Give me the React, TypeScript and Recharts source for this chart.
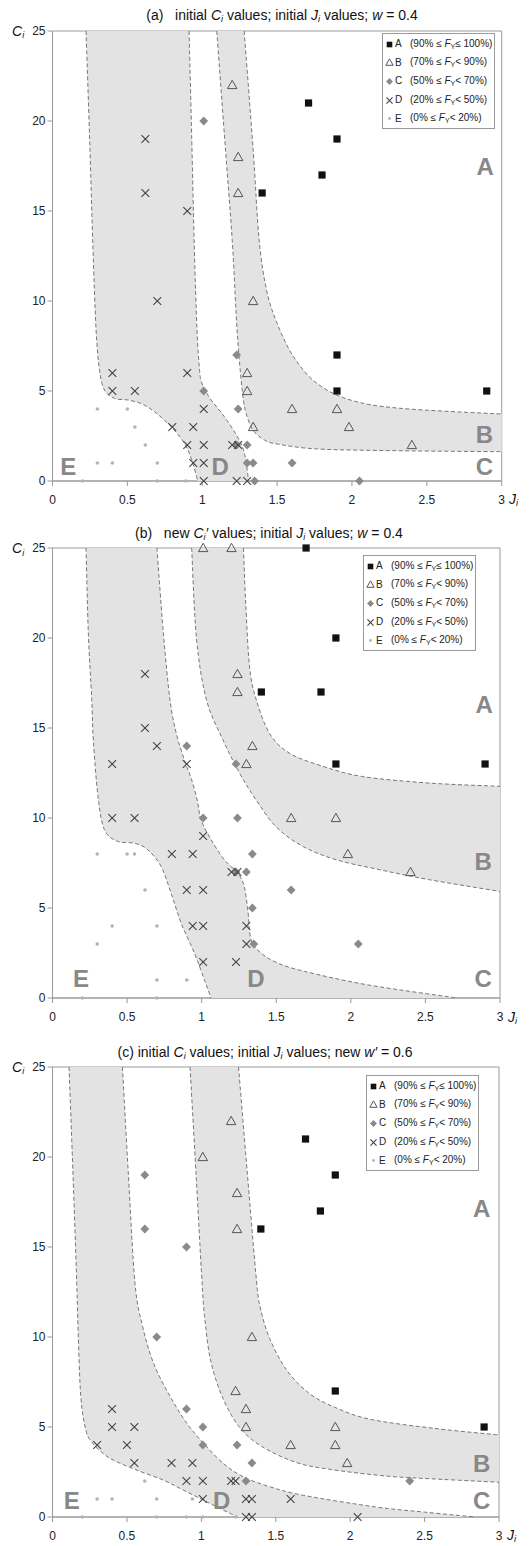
import React from 'react';
import { ScatterChart, Scatter, XAxis, YAxis, ReferenceArea, ReferenceDot, Legend } from 'recharts';

const FONT = '"Liberation Sans", Arial, Helvetica, sans-serif';

const X_TICKS = [0, 0.5, 1, 1.5, 2, 2.5, 3];
const Y_TICKS = [0, 5, 10, 15, 20, 25];

const SERIES_NAMES = ['A', 'B', 'C', 'D', 'E'];
const LEGEND_LOW = ['90%', '70%', '50%', '20%', '0%'];
const LEGEND_OP = ['≤', '<', '<', '<', '<'];
const LEGEND_HIGH = ['100%', '90%', '70%', '50%', '20%'];

// ---------- panel (a) ----------
const aA = [[1.71, 21], [1.9, 19], [1.8, 17], [1.4, 16], [1.9, 7], [1.9, 5], [2.9, 5]];
const aB = [[1.2, 22], [1.24, 18], [1.24, 16], [1.34, 10], [1.3, 6], [1.3, 5], [1.34, 3], [1.6, 4], [1.9, 4], [1.98, 3], [2.4, 2]];
const aC = [[1.01, 20], [1.23, 7], [1.01, 5], [1.24, 4], [1.3, 2], [1.23, 2], [1.3, 1], [1.34, 1], [1.6, 1], [1.35, 0], [2.05, 0]];
const aD = [[0.62, 19], [0.62, 16], [0.9, 15], [0.7, 10], [0.4, 6], [0.9, 6], [0.4, 5], [0.55, 5], [1.01, 4], [0.8, 3], [0.94, 3], [0.9, 2], [1.01, 2], [1.2, 2], [1.24, 2], [0.94, 1], [1.01, 1], [1.01, 0], [1.23, 0], [1.3, 0]];
const aE = [[0.3, 4], [0.5, 4], [0.55, 3], [0.62, 2], [0.3, 1], [0.4, 1], [0.7, 1], [0.2, 0], [0.7, 0], [0.89, 0]];

const aBand1L = [[0.224, 25], [0.248, 19], [0.27, 13], [0.291, 8.4], [0.314, 6.17], [0.347, 5.06], [0.414, 4.59], [0.503, 4.5], [0.592, 4.3], [0.681, 3.85], [0.792, 3.02], [0.881, 2.09], [0.93, 1.17], [0.97, 0]];
const aBand1R = [[0.912, 25], [0.93, 19], [0.947, 13], [0.965, 8.4], [0.982, 6.17], [0.995, 5.5], [1.03, 4.9], [1.059, 4.5], [1.148, 3.57], [1.235, 2.46], [1.282, 1.54], [1.31, 0]];
const aBand2L = [[1.097, 25], [1.15, 19], [1.2, 13.4], [1.225, 9.5], [1.24, 7.5], [1.26, 5.6], [1.275, 4.5], [1.293, 3.76], [1.338, 2.83], [1.415, 2.28], [1.505, 2.05], [1.77, 1.78], [2.32, 1.68], [3, 1.63]];
const aBand2R = [[1.28, 25], [1.34, 18.4], [1.38, 13.4], [1.43, 10.6], [1.5, 8.76], [1.61, 6.9], [1.765, 5.43], [1.99, 4.5], [2.32, 4.04], [3, 3.72]];
const aLetters = [['A', 2.889, 17.46], ['B', 2.885, 2.61], ['C', 2.885, 0.79], ['D', 1.119, 0.79], ['E', 0.106, 0.79]];

// ---------- panel (b) ----------
const bA = [[1.7, 25], [1.9, 20], [1.4, 17], [1.8, 17], [1.9, 13], [2.9, 13]];
const bB = [[1.01, 25], [1.2, 25], [1.24, 18], [1.24, 17], [1.34, 14], [1.3, 13], [1.6, 10], [1.9, 10], [1.98, 8], [2.4, 7]];
const bC = [[0.9, 14], [1.23, 13], [1.01, 10], [1.24, 10], [1.34, 8], [1.23, 7], [1.3, 7], [1.6, 6], [1.34, 5], [1.35, 3], [2.05, 3]];
const bD = [[0.62, 18], [0.62, 15], [0.7, 14], [0.4, 13], [0.9, 13], [0.4, 10], [0.55, 10], [1.01, 9], [0.8, 8], [0.94, 8], [1.2, 7], [1.24, 7], [0.9, 6], [1.01, 6], [0.94, 4], [1.01, 4], [1.3, 4], [1.3, 3], [1.01, 2], [1.23, 2]];
const bE = [[0.3, 8], [0.5, 8], [0.55, 8], [0.62, 6], [0.4, 4], [0.7, 4], [0.3, 3], [0.7, 1], [0.9, 1], [0.2, 0], [0.7, 0]];

const bBand1L = [[0.225, 25], [0.24, 20.3], [0.263, 16.6], [0.274, 14.3], [0.305, 11.2], [0.348, 9.35], [0.437, 8.7], [0.55, 8.6], [0.638, 8.24], [0.728, 7.31], [0.795, 5.83], [0.862, 4.17], [0.951, 2.5], [1.018, 1.02], [1.063, 0]];
const bBand1R = [[0.7, 25], [0.743, 20.3], [0.787, 16.6], [0.83, 14.7], [0.885, 13.2], [0.93, 12.2], [0.97, 11.0], [0.996, 9.9], [1.063, 8.8], [1.152, 7.68], [1.242, 6.94], [1.285, 6.2], [1.309, 4.9], [1.331, 3.24], [1.398, 2.5], [1.51, 1.94], [1.689, 1.48], [2.106, 0.74], [2.71, 0]];
const bBand2L = [[0.933, 25], [0.965, 20], [1.031, 16.6], [1.142, 14.35], [1.254, 12.5], [1.365, 11.0], [1.5, 9.5], [1.679, 8.42], [1.902, 7.68], [2.192, 7.13], [2.527, 6.57], [3, 5.92]];
const bBand2R = [[1.28, 25], [1.295, 22], [1.321, 18.4], [1.365, 16.6], [1.455, 14.7], [1.589, 13.6], [1.813, 12.87], [2.081, 12.3], [2.527, 11.94], [3, 11.76]];
const bLetters = [['A', 2.894, 16.29], ['B', 2.887, 7.59], ['C', 2.887, 1.11], ['D', 1.364, 1.11], ['E', 0.191, 1.11]];

// ---------- panel (c) ----------
const cA = [[1.7, 21], [1.9, 19], [1.8, 17], [1.4, 16], [1.9, 7], [2.9, 5]];
const cB = [[1.2, 22], [1.01, 20], [1.24, 18], [1.24, 16], [1.34, 10], [1.23, 7], [1.3, 6], [1.3, 5], [1.9, 5], [1.9, 4], [1.6, 4], [1.98, 3]];
const cC = [[0.62, 19], [0.62, 16], [0.9, 15], [0.7, 10], [0.9, 6], [1.01, 5], [1.01, 4], [1.24, 4], [1.34, 3], [1.3, 2], [2.4, 2]];
const cD = [[0.4, 6], [0.4, 5], [0.55, 5], [0.3, 4], [0.5, 4], [0.55, 3], [0.8, 3], [0.94, 3], [0.9, 2], [1.01, 2], [1.2, 2], [1.23, 2], [1.01, 1], [1.3, 1], [1.34, 1], [1.6, 1], [1.3, 0], [1.34, 0], [2.05, 0]];
const cE = [[0.62, 2], [0.3, 1], [0.4, 1], [0.7, 1], [0.94, 1], [0.2, 0], [0.7, 0], [0.9, 0], [1.01, 0], [1.23, 0]];

const cBand1L = [[0.111, 25], [0.138, 19], [0.163, 13], [0.172, 10.4], [0.19, 6.7], [0.225, 4.8], [0.265, 4.15], [0.33, 3.6], [0.411, 3.15], [0.568, 2.6], [0.747, 2.04], [0.882, 1.48], [1.016, 0.93], [1.15, 0.37], [1.245, 0]];
const cBand1R = [[0.47, 25], [0.51, 19], [0.554, 13], [0.605, 10.6], [0.68, 8.52], [0.792, 6.67], [0.904, 5.19], [1.016, 4.08], [1.15, 2.96], [1.285, 2.22], [1.464, 1.67], [1.688, 1.2], [2.17, 0.56], [2.5, 0.27], [2.84, 0]];
const cBand2L = [[0.924, 25], [0.965, 19], [1.005, 13], [1.025, 10.9], [1.065, 8.6], [1.15, 6.5], [1.265, 4.9], [1.41, 3.9], [1.63, 3.05], [1.86, 2.65], [2.25, 2.27], [2.62, 2.09], [3, 1.93]];
const cBand2R = [[1.25, 25], [1.31, 19], [1.372, 13], [1.4, 11.5], [1.46, 9.9], [1.57, 8.2], [1.72, 6.9], [1.895, 6.1], [2.14, 5.42], [2.59, 4.9], [3, 4.56]];
const cLetters = [['A', 2.884, 17.13], ['B', 2.884, 3.0], ['C', 2.884, 0.93], ['D', 1.137, 0.93], ['E', 0.129, 0.93]];

type P = { x: number; y: number };
const toPts = (a: number[][]): P[] => a.map(([x, y]) => ({ x, y }));

function smoothPath(p: P[], move = true): string {
  if (!p.length) return '';
  let d = (move ? 'M' : 'L') + p[0].x + ',' + p[0].y;
  for (let i = 0; i < p.length - 1; i++) {
    const p0 = p[i - 1] || p[i];
    const p1 = p[i];
    const p2 = p[i + 1];
    const p3 = p[i + 2] || p2;
    const c1x = p1.x + (p2.x - p0.x) / 6;
    const c1y = p1.y + (p2.y - p0.y) / 6;
    const c2x = p2.x - (p3.x - p1.x) / 6;
    const c2y = p2.y - (p3.y - p1.y) / 6;
    d += ` C${c1x},${c1y} ${c2x},${c2y} ${p2.x},${p2.y}`;
  }
  return d;
}

const bandLine = (nL: number) => (props: any) => {
  const p: P[] = (props.points || []).filter((q: any) => q && q.x != null && q.y != null);
  const L = p.slice(0, nL);
  const R = p.slice(nL);
  if (!L.length || !R.length) return <g />;
  const fillD = smoothPath(L) + ' ' + smoothPath([...R].reverse(), false) + ' Z';
  return (
    <g>
      <path d={fillD} fill="#e3e3e3" stroke="none" />
      <path d={smoothPath(L)} fill="none" stroke="#777" strokeWidth={1} strokeDasharray="4 2.5" />
      <path d={smoothPath(R)} fill="none" stroke="#777" strokeWidth={1} strokeDasharray="4 2.5" />
    </g>
  );
};

function Sym({ k, cx, cy, s = 1 }: { k: string; cx: number; cy: number; s?: number }) {
  if (cx == null || cy == null) return <g />;
  switch (k) {
    case 'A':
      return <rect x={cx - 3.6 * s} y={cy - 3.6 * s} width={7.2 * s} height={7.2 * s} fill="#111" />;
    case 'B':
      return (
        <polygon
          points={`${cx},${cy - 4.7 * s} ${cx - 4.7 * s},${cy + 3.6 * s} ${cx + 4.7 * s},${cy + 3.6 * s}`}
          fill="none"
          stroke="#555"
          strokeWidth={1}
        />
      );
    case 'C':
      return (
        <polygon
          points={`${cx},${cy - 4.4 * s} ${cx + 4.4 * s},${cy} ${cx},${cy + 4.4 * s} ${cx - 4.4 * s},${cy}`}
          fill="#8a8a8a"
        />
      );
    case 'D':
      return (
        <path
          d={`M${cx - 3.9 * s},${cy - 3.9 * s}L${cx + 3.9 * s},${cy + 3.9 * s}M${cx + 3.9 * s},${cy - 3.9 * s}L${cx - 3.9 * s},${cy + 3.9 * s}`}
          stroke="#444"
          strokeWidth={1.1}
          fill="none"
        />
      );
    default:
      return <circle cx={cx} cy={cy} r={1.8 * s} fill="#b3b3b3" />;
  }
}

const renderLegend = (props: any) => {
  const payload = (props.payload || []).filter((e: any) => SERIES_NAMES.includes(e.value));
  return (
    <div
      style={{
        border: '1px solid #9a9a9a',
        background: '#fff',
        width: 111,
        height: 93,
        paddingTop: 1,
        fontSize: 10,
        color: '#222',
        fontFamily: FONT,
        boxSizing: 'content-box',
      }}
    >
      {payload.map((e: any) => {
        const i = SERIES_NAMES.indexOf(e.value);
        return (
          <div key={e.value} style={{ height: 18.6, display: 'flex', alignItems: 'center', whiteSpace: 'pre', lineHeight: '12px' }}>
            <svg width={11} height={11} style={{ marginLeft: 1, flex: 'none' }}>
              <Sym k={e.value} cx={5.5} cy={5.5} s={0.78} />
            </svg>
            <span style={{ width: 15, flex: 'none' }}>{e.value}</span>
            <span>
              ({LEGEND_LOW[i]} ≤ <i>F</i>
              <span style={{ fontSize: 7, position: 'relative', top: 2 }}>Y</span>
              {LEGEND_OP[i]} {LEGEND_HIGH[i]})
            </span>
          </div>
        );
      })}
    </div>
  );
};

type PanelProps = {
  top: number;
  rightEdge: number;
  series: number[][][];
  bands: number[][][];
  letters: (string | number)[][];
  legendTop: number;
  legendLeft: number;
};

function Panel({ top, rightEdge, series, bands, letters, legendTop, legendLeft }: PanelProps) {
  const tickStyle = { fill: '#222', fontSize: 12, fontFamily: FONT };
  const bandPairs: number[][][][] = [];
  for (let i = 0; i < bands.length; i += 2) bandPairs.push([bands[i], bands[i + 1]]);
  return (
    <div style={{ position: 'absolute', left: 0, top, width: 530, height: 510 }}>
      <ScatterChart width={530} height={510} margin={{ top: 31, right: 530 - rightEdge, bottom: 0, left: 0 }}>
        <XAxis
          type="number"
          dataKey="x"
          domain={[0, 3]}
          ticks={X_TICKS}
          interval={0}
          height={29}
          tickSize={5}
          tickMargin={9}
          stroke="#999"
          tick={tickStyle}
        />
        <YAxis
          type="number"
          dataKey="y"
          domain={[0, 25]}
          ticks={Y_TICKS}
          interval={0}
          width={52.5}
          tickSize={5}
          tickMargin={2}
          stroke="#999"
          tick={tickStyle}
        />
        {bandPairs.map(([L, R], i) => (
          <Scatter
            key={'band' + i}
            name={'band' + i}
            data={[...toPts(L), ...toPts(R)]}
            line={bandLine(L.length)}
            shape={() => <g />}
            legendType="none"
            isAnimationActive={false}
          />
        ))}
        <ReferenceArea x1={0} x2={3} y1={0} y2={25} fill="none" fillOpacity={0} stroke="#9a9a9a" strokeWidth={1} />
        {letters.map(([t, x, y]) => (
          <ReferenceDot
            key={'l' + t}
            x={x as number}
            y={y as number}
            r={0}
            fill="none"
            stroke="none"
            label={{ value: t as string, position: 'center', fill: '#888', fontSize: 24, fontWeight: 700, fontFamily: FONT }}
          />
        ))}
        {series.map((d, i) => (
          <Scatter
            key={SERIES_NAMES[i]}
            name={SERIES_NAMES[i]}
            data={toPts(d)}
            fill="#444"
            shape={(p: any) => <Sym k={SERIES_NAMES[i]} cx={p.cx} cy={p.cy} />}
            isAnimationActive={false}
          />
        ))}
        <Legend
          layout="vertical"
          verticalAlign="middle"
          align="center"
          wrapperStyle={{ position: 'absolute', left: legendLeft, top: legendTop, width: 113, height: 95 }}
          content={renderLegend}
        />
      </ScatterChart>
    </div>
  );
}

const Ci = ({ prime = false }: { prime?: boolean }) => (
  <i>
    C<span style={{ fontSize: '0.65em', position: 'relative', top: '0.25em' }}>i</span>
    {prime ? '′' : ''}
  </i>
);
const Ji = () => (
  <i>
    J<span style={{ fontSize: '0.65em', position: 'relative', top: '0.25em' }}>i</span>
  </i>
);

function Title({ cy, center, children }: { cy: number; center: number; children: React.ReactNode }) {
  return (
    <div
      style={{
        position: 'absolute',
        left: center - 200,
        width: 400,
        top: cy - 9,
        height: 18,
        lineHeight: '18px',
        textAlign: 'center',
        fontSize: 14,
        whiteSpace: 'pre',
        color: '#111',
      }}
    >
      {children}
    </div>
  );
}

function AxisLabel({ left, cy, children }: { left: number; cy: number; children: React.ReactNode }) {
  return (
    <div style={{ position: 'absolute', left, top: cy - 9, height: 18, lineHeight: '18px', fontSize: 14, color: '#111', whiteSpace: 'pre' }}>
      {children}
    </div>
  );
}

export default function App() {
  return (
    <div
      style={{
        position: 'absolute',
        left: 0,
        top: 0,
        width: 530,
        height: 1546,
        overflow: 'hidden',
        background: '#fff',
        fontFamily: FONT,
      }}
    >
      <Panel
        top={0}
        rightEdge={501.7}
        series={[aA, aB, aC, aD, aE]}
        bands={[aBand1L, aBand1R, aBand2L, aBand2R]}
        letters={aLetters}
        legendLeft={382}
        legendTop={33}
      />
      <Panel
        top={517.3}
        rightEdge={500}
        series={[bA, bB, bC, bD, bE]}
        bands={[bBand1L, bBand1R, bBand2L, bBand2R]}
        letters={bLetters}
        legendLeft={363}
        legendTop={37.7}
      />
      <Panel
        top={1035.7}
        rightEdge={499}
        series={[cA, cB, cC, cD, cE]}
        bands={[cBand1L, cBand1R, cBand2L, cBand2R]}
        letters={cLetters}
        legendLeft={366}
        legendTop={39.3}
      />

      <Title cy={15} center={282}>
        (a)   initial <Ci /> values; initial <Ji /> values; <i>w</i> = 0.4
      </Title>
      <Title cy={533} center={269}>
        (b)   new <Ci prime /> values; initial <Ji /> values; <i>w</i> = 0.4
      </Title>
      <Title cy={1052} center={265}>
        (c) initial <Ci /> values; initial <Ji /> values; new <i>w′</i> = 0.6
      </Title>

      <AxisLabel left={12} cy={31}><Ci /></AxisLabel>
      <AxisLabel left={12} cy={548.3}><Ci /></AxisLabel>
      <AxisLabel left={12} cy={1066.7}><Ci /></AxisLabel>
      <AxisLabel left={509} cy={499}><Ji /></AxisLabel>
      <AxisLabel left={508} cy={1016.5}><Ji /></AxisLabel>
      <AxisLabel left={507} cy={1535}><Ji /></AxisLabel>
    </div>
  );
}
